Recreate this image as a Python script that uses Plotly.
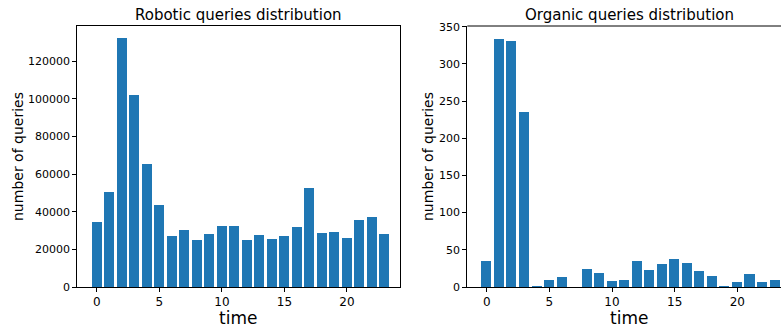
import plotly.graph_objects as go

hours = list(range(24))
robotic = [34600, 50500, 132300, 102100, 65400, 43600, 27100, 30300, 25000, 28200,
           32400, 32400, 25000, 27600, 25500, 27100, 31900, 52600, 28700, 29200,
           26000, 35600, 37200, 28200]
organic = [35, 334, 331, 236, 1, 9, 13, 0, 24, 19, 8, 9, 35, 23, 31, 37, 32, 21, 15, 1,
           7, 17, 7, 9]
robotic_yticks = [0, 20000, 40000, 60000, 80000, 100000, 120000]
organic_yticks = [0, 50, 100, 150, 200, 250, 300, 350]
xticks = [0, 5, 10, 15, 20]

W, H = 781, 331
BLUE = "#1f77b4"
FONT = "DejaVu Sans"

fig = go.Figure()
fig.add_trace(go.Bar(x=hours, y=robotic, width=0.8, marker=dict(color=BLUE, line=dict(width=0)),
                     xaxis="x", yaxis="y", showlegend=False))
fig.add_trace(go.Bar(x=hours, y=organic, width=0.8, marker=dict(color=BLUE, line=dict(width=0)),
                     xaxis="x2", yaxis="y2", showlegend=False))

ydom = [(H - 287) / H, (H - 26) / H]
x1dom = [77.3 / W, 399.5 / W]
x2dom = [467.3 / W, 1.0]

common_x = dict(tickmode="array", tickvals=xticks, ticks="outside", ticklen=4, tickwidth=1,
                tickcolor="black", showgrid=False, zeroline=False, showline=True,
                linecolor="black", linewidth=1, tickfont=dict(size=12, color="black", family=FONT))
common_y = dict(ticks="outside", ticklen=4, tickwidth=1, tickcolor="black", showgrid=False,
                zeroline=False, showline=True, linecolor="black", linewidth=1,
                tickfont=dict(size=11, color="black", family=FONT), tickformat="d")

fig.update_layout(
    width=W, height=H,
    margin=dict(l=0, r=0, t=0, b=0, pad=0, autoexpand=False),
    paper_bgcolor="white", plot_bgcolor="white",
    font=dict(family=FONT, color="black"),
    bargap=0,
    xaxis=dict(domain=x1dom, range=[-1.56, 24.2], anchor="y", mirror=True, automargin=False, **common_x),
    yaxis=dict(domain=ydom, range=[0, 138800], anchor="x", mirror=True, automargin=False,
               tickvals=robotic_yticks, tickmode="array", **common_y),
    xaxis2=dict(domain=x2dom, range=[-1.55, 23.49], anchor="y2", mirror=False, automargin=False, **common_x),
    yaxis2=dict(domain=ydom, range=[0, 351], anchor="x2", mirror=False, automargin=False,
                tickvals=organic_yticks, tickmode="array", **common_y),
)

# top spine for the clipped right panel
fig.add_shape(type="line", xref="x2 domain", yref="y2 domain", x0=0, x1=1, y0=1, y1=1,
              line=dict(color="black", width=1))

ann = []
ann.append(dict(text="Robotic queries distribution", x=(77.3 + 399.5) / 2 / W, y=(H - 15) / H,
                xref="paper", yref="paper", showarrow=False, font=dict(size=15, family=FONT),
                xanchor="center", yanchor="middle"))
ann.append(dict(text="Organic queries distribution", x=(390 + 718 / 3) / W, y=(H - 15) / H,
                xref="paper", yref="paper", showarrow=False, font=dict(size=15, family=FONT),
                xanchor="center", yanchor="middle"))
for cx in [(77.3 + 399.5) / 2, 390 + 718 / 3]:
    ann.append(dict(text="time", x=cx / W, y=(H - 318) / H, xref="paper", yref="paper",
                    showarrow=False, font=dict(size=17, family=FONT),
                    xanchor="center", yanchor="middle"))
for cx in [18, 428]:
    ann.append(dict(text="number of queries", x=cx / W, y=(H - 157) / H, xref="paper",
                    yref="paper", showarrow=False, textangle=-90,
                    font=dict(size=14, family=FONT), xanchor="center", yanchor="middle"))
fig.update_layout(annotations=ann)

fig.write_html("out.html", config={"displayModeBar": False},
               post_script="document.body.style.margin='0px';document.body.style.overflow='hidden';")
